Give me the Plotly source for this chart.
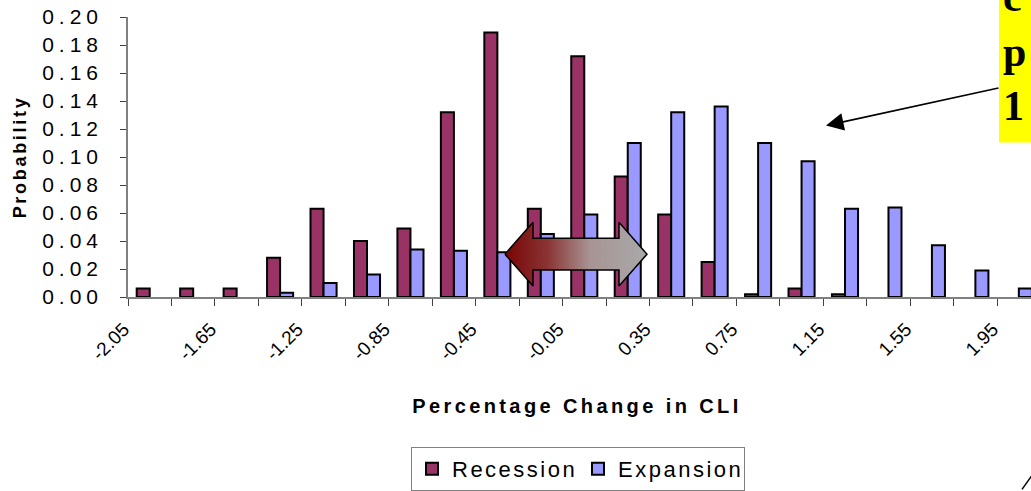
import plotly.graph_objects as go

# ---- data ----
categories = ["-2.05", "-1.85", "-1.65", "-1.45", "-1.25", "-1.05", "-0.85",
              "-0.65", "-0.45", "-0.25", "-0.05", "0.15", "0.35", "0.55",
              "0.75", "0.95", "1.15", "1.35", "1.55", "1.75", "1.95"]
recession = [0.006, 0.006, 0.006, 0.028, 0.063, 0.040, 0.049,
             0.132, 0.189, 0.063, 0.172, 0.086, 0.059, 0.025,
             0.002, 0.006, 0.002, None, None, None, None]
expansion = [None, None, None, 0.003, 0.010, 0.016, 0.034,
             0.033, 0.032, 0.045, 0.059, 0.110, 0.132, 0.136,
             0.110, 0.097, 0.063, 0.064, 0.037, 0.019, 0.006]
tick_text = ["-2.05", "", "-1.65", "", "-1.25", "", "-0.85", "", "-0.45", "",
             "-0.05", "", "0.35", "", "0.75", "", "1.15", "", "1.55", "", "1.95"]
y_ticks = [0.00, 0.02, 0.04, 0.06, 0.08, 0.10, 0.12, 0.14, 0.16, 0.18, 0.20]

FONT = "Liberation Sans, Arial, sans-serif"
SERIF = "Liberation Serif, Times New Roman, serif"
W, H = 1031, 491
L, R, T, B = 128, 0, 17, 193
PW, PH = W - L - R, H - T - B


def px(x):
    return (x - L) / PW


def py(y):
    return (H - B - y) / PH


fig = go.Figure()
fig.add_trace(go.Bar(x=categories, y=recession, name="Recession",
                     marker=dict(color="#993366", line=dict(color="black", width=2))))
fig.add_trace(go.Bar(x=categories, y=expansion, name="Expansion",
                     marker=dict(color="#9999FF", line=dict(color="black", width=2))))

# double-headed gradient arrow (decoration), drawn in pixel space of an overlay axis
arrow_px = [(505, 255), (533, 223), (533, 239), (619, 239), (619, 223), (647, 255),
            (619, 287), (619, 271), (533, 271), (533, 287), (505, 255)]
fig.add_trace(go.Scatter(
    x=[p[0] - L for p in arrow_px], y=[H - B - p[1] for p in arrow_px],
    xaxis="x2", yaxis="y2", mode="lines", fill="toself",
    line=dict(color="black", width=1.5),
    fillgradient=dict(type="horizontal",
                      colorscale=[[0, "#780404"], [0.3, "#8a3434"], [0.6, "#a89494"], [1, "#a9a9a9"]]),
    showlegend=False, hoverinfo="skip"))

fig.update_layout(
    template="none",
    width=W, height=H, autosize=False,
    margin=dict(l=L, r=R, t=T, b=B, pad=0),
    paper_bgcolor="white", plot_bgcolor="white",
    barmode="group", bargap=0.4, bargroupgap=0,
    font=dict(family=FONT, color="black"),
    showlegend=True, hovermode=False,
    legend=dict(orientation="h", x=px(411), y=py(449), xanchor="left", yanchor="top",
                bordercolor="#808080", borderwidth=1, bgcolor="white",
                font=dict(size=22, family=FONT, color="black"),
                traceorder="normal", entrywidth=121),
    xaxis=dict(type="category", range=[-0.5, 20.28], tickmode="array",
               tickvals=categories, ticktext=tick_text, tickson="boundaries",
               ticks="outside", ticklen=7, tickcolor="#404040", tickwidth=1,
               showline=True, linecolor="#808080", linewidth=1.5,
               tickangle=-45, tickfont=dict(size=19, family=FONT, color="black"),
               ticklabelshift=-26, ticklabelstandoff=12,
               showgrid=False, zeroline=False, automargin=False),
    yaxis=dict(range=[0, 0.2], tickmode="array", tickvals=y_ticks, tickformat=".2f",
               ticks="outside", ticklen=6, tickcolor="#404040", tickwidth=1,
               showline=True, linecolor="#808080", linewidth=1.5,
               tickfont=dict(size=21, family=FONT, color="black"), ticklabelstandoff=13,
               showgrid=False, zeroline=False, automargin=False),
    xaxis2=dict(overlaying="x", anchor="y2", range=[0, PW], visible=False, fixedrange=True),
    yaxis2=dict(overlaying="y", anchor="x2", range=[0, PH], visible=False, fixedrange=True),
)

shapes = [
    dict(type="rect", xref="paper", yref="paper", x0=px(999), x1=px(1040), y0=py(143), y1=py(-5),
         fillcolor="#FFFF00", line=dict(width=0), layer="above"),
    dict(type="line", xref="paper", yref="paper", x0=px(1022), y0=py(491), x1=px(1032), y1=py(477),
         line=dict(color="black", width=1.5)),
]
fig.update_layout(shapes=shapes)

annotations = [
    dict(text="<b>Percentage Change in CLI</b>", xref="paper", yref="paper",
         x=px(577), y=py(407), xanchor="center", yanchor="middle", showarrow=False,
         font=dict(size=20, family=FONT, color="black")),
    dict(text="<b>Probability</b>", xref="paper", yref="paper", textangle=-90,
         x=px(20), y=py(158), xanchor="center", yanchor="middle", showarrow=False,
         font=dict(size=18, family=FONT, color="black")),
    dict(text="", xref="paper", yref="paper", x=px(826), y=py(126),
         ax=1000 - 826, ay=88 - 126, showarrow=True, arrowhead=2, arrowsize=2.2,
         arrowwidth=1.6, arrowcolor="black", standoff=0),
    dict(text="<b>c<br>p<br>1</b>", xref="paper", yref="paper", x=px(1001), y=py(52),
         xanchor="left", yanchor="middle", align="left", showarrow=False,
         font=dict(size=42, family=SERIF, color="black")),
]
fig.update_layout(annotations=annotations)

# page margin reset + Excel-style letter spacing on the texts
post = """
document.body.style.margin = '0';
document.body.style.overflow = 'hidden';
var gd = document.getElementById('{plot_id}');
function ls(sel, v){ gd.querySelectorAll(sel).forEach(function(t){ t.style.letterSpacing = v; }); }
ls('.ytick text', '5px');
ls('.legendtext', '2.5px');
gd.querySelectorAll('.annotation-text').forEach(function(t){
  if (t.textContent.indexOf('Percentage') >= 0) t.style.letterSpacing = '3.4px';
  if (t.textContent.indexOf('Probability') >= 0) t.style.letterSpacing = '2.7px';
});
"""

fig.write_html("out.html", config={"displayModeBar": False}, post_script=post)
